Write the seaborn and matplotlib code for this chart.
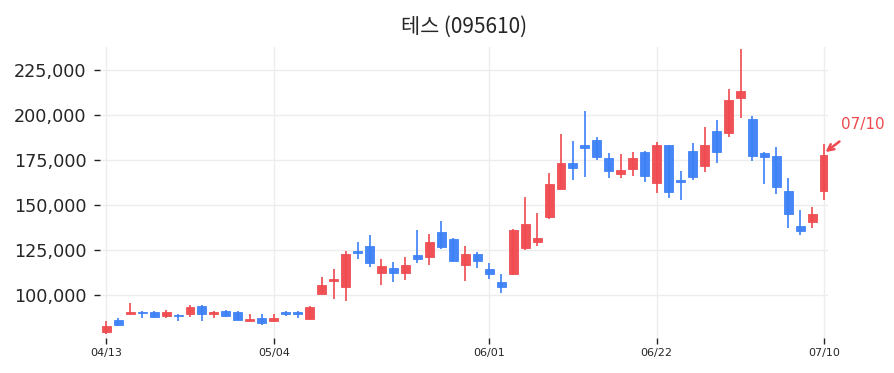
import matplotlib
matplotlib.use('Agg')
import matplotlib.pyplot as plt
import seaborn as sns
import numpy as np
import pandas as pd

# OHLC (61 trading days, 04/13 .. 07/10)
opens = [79400, 86100, 89400, 90600, 90600, 88300, 89100, 89400, 93900, 89400,
         91100, 90600, 85600, 87200, 85600, 90600, 90600, 86700, 100600, 107900,
         104400, 124400, 127200, 112200, 115000, 112200, 122200, 121100, 135000, 131100,
         116700, 122800, 114400, 107200, 111700, 126100, 129400, 143300, 158900, 173300,
         183300, 186100, 176100, 167200, 170000, 179400, 162200, 183300, 163900, 180000,
         171700, 191100, 190000, 209400, 197800, 178900, 177200, 157800, 138300, 140600,
         157800]
highs = [85600, 87200, 95600, 90800, 90800, 91700, 89400, 94400, 94200, 91100,
         91400, 90900, 89400, 89400, 89400, 90800, 91100, 93600, 110000, 114400,
         124400, 129400, 133300, 120000, 118300, 121100, 136100, 133900, 141100, 131400,
         127200, 123900, 117800, 111700, 136400, 154400, 145600, 167800, 189400, 185600,
         202200, 187800, 178900, 178300, 179400, 179900, 185000, 183600, 168900, 184400,
         193300, 197200, 214400, 236700, 199400, 179400, 182200, 165000, 147200, 148900,
         183900]
lows = [78300, 82800, 89400, 87200, 87500, 87200, 85600, 87800, 85600, 87200,
        88000, 85800, 85300, 83300, 85000, 88300, 87200, 86400, 100300, 97800,
        96700, 120000, 115600, 105600, 107200, 108300, 117800, 116700, 125600, 118600,
        107800, 115000, 108900, 101100, 111100, 125000, 127200, 142200, 158900, 163900,
        165600, 175000, 165000, 165000, 166100, 162800, 156700, 153900, 152800, 163900,
        168300, 173300, 187800, 198300, 174400, 161700, 156100, 137200, 133300, 137200,
        152800]
closes = [82800, 83300, 90400, 90000, 87800, 90600, 88300, 93300, 89400, 90600,
          88300, 86100, 86700, 84400, 87200, 89400, 89400, 93300, 105600, 108700,
          122800, 123300, 117800, 116100, 112200, 116700, 120000, 129400, 126700, 118900,
          122800, 118900, 111700, 104400, 136100, 139400, 131700, 161700, 173300, 170600,
          181700, 176700, 168900, 169400, 176100, 166100, 183300, 157200, 162800, 165600,
          183300, 179400, 208300, 213300, 177200, 176700, 160000, 145000, 135600, 145000,
          177800]
tick_pos = [0, 14, 32, 46, 60]
tick_labels = ['04/13', '05/04', '06/01', '06/22', '07/10']
title = '테스 (095610)'

up_col = '#EF4A4F'
down_col = '#3C80F6'

df = pd.DataFrame({'o': opens, 'h': highs, 'l': lows, 'c': closes})
df['i'] = np.arange(len(df))
df['lo'] = df[['o', 'c']].min(axis=1)
df['body'] = (df['c'] - df['o']).abs().clip(lower=600)
df['up'] = df['c'] >= df['o']

sns.set_theme(style='white')
plt.rcParams['font.family'] = ['Noto Sans CJK KR', 'DejaVu Sans']

fig = plt.figure(figsize=(8.95, 3.73), dpi=100)
ax = fig.add_axes([0.112, 0.094, 0.813, 0.78])

for is_up, col in [(True, up_col), (False, down_col)]:
    sub = df[df['up'] == is_up]
    ax.vlines(sub['i'], sub['l'], sub['h'], color=col, linewidth=1.2, zorder=2)
    sns.barplot(x=sub['i'], y=sub['body'], bottom=sub['lo'], native_scale=True,
                color=col, saturation=1, width=0.75, errorbar=None, ax=ax,
                edgecolor=col, linewidth=0.6, alpha=0.95, zorder=3)

ax.set_xlim(-0.5, 60.3)
ax.set_ylim(76100, 237800)
ax.set_xticks(tick_pos)
ax.set_xticklabels(tick_labels, fontsize=8, family='DejaVu Sans')
yt = [100000, 125000, 150000, 175000, 200000, 225000]
ax.set_yticks(yt)
ax.set_yticklabels([f'{v:,}' for v in yt], fontsize=12.7, family='DejaVu Sans')
ax.set_xlabel('')
ax.set_ylabel('')
ax.grid(True, color='#EDEDED', linewidth=1)
ax.set_axisbelow(True)
for s in ax.spines.values():
    s.set_visible(False)
ax.tick_params(axis='both', which='both', length=4, width=1, color='#222222',
               bottom=True, left=True)
ax.tick_params(axis='y', pad=6)
ax.set_title(title, fontsize=15, pad=10)

ax.annotate('07/10', xy=(60.1, 179400), xytext=(63.2, 195000),
            color=up_col, fontsize=11, family='DejaVu Sans',
            ha='center', va='center', annotation_clip=False,
            arrowprops=dict(arrowstyle='->', color=up_col, lw=1.8,
                            shrinkA=8, shrinkB=0))

fig.savefig('out.png', dpi=100)
